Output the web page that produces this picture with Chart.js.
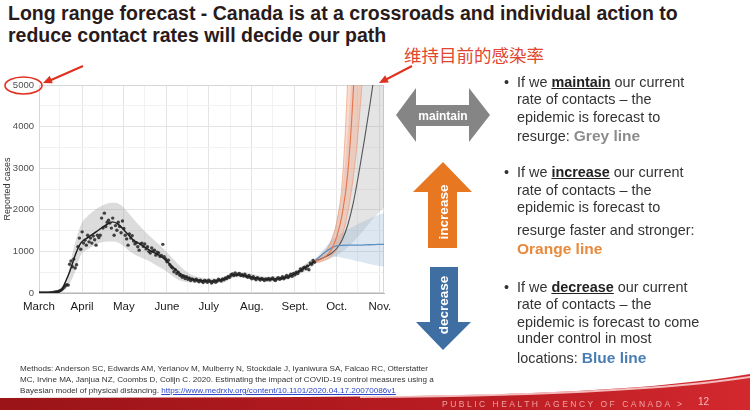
<!DOCTYPE html>
<html><head><meta charset="utf-8">
<script src="https://cdn.jsdelivr.net/npm/chart.js@4.4.0/dist/chart.umd.min.js"></script>
<style>
html,body{margin:0;padding:0;background:#fff;}
body{width:750px;height:410px;position:relative;overflow:hidden;font-family:"Liberation Sans",Arial,sans-serif;}
.abs{position:absolute;}
#title{left:8px;top:2px;font-weight:bold;font-size:19.5px;line-height:22px;color:#2a1a1a;white-space:nowrap;}
#chartWrap{left:0;top:62px;width:392px;height:260px;}
.ln{position:absolute;left:517px;font-size:14.4px;line-height:17px;color:#333;white-space:nowrap;}
.bul{position:absolute;left:504px;font-size:14.4px;line-height:17px;color:#333;}
.ln b{color:#222;}
.grey{color:#8c8c8c;font-weight:bold;font-size:15.5px;}
.orange{color:#e8893b;font-weight:bold;font-size:15.5px;}
.blue{color:#4a7db3;font-weight:bold;font-size:15.5px;}
#cite{left:20px;top:363px;font-size:8.1px;line-height:11px;color:#333;white-space:nowrap;}
#cite a{color:#2a45c8;text-decoration:underline;}
#cn{left:404px;top:45px;font-family:"Noto Sans CJK SC",sans-serif;font-size:17.5px;line-height:20px;color:#e2462e;white-space:nowrap;}
#phac{left:442px;top:399px;font-size:8.5px;letter-spacing:2.5px;color:rgba(255,200,200,0.75);white-space:nowrap;}
#pnum{left:698px;top:396px;font-size:10px;color:rgba(255,210,210,0.85);}
</style>
</head>
<body>
<div id="title" class="abs">Long range forecast - Canada is at a crossroads and individual action to<br>reduce contact rates will decide our path</div>
<div id="cn" class="abs">维持目前的感染率</div>

<div id="chartWrap" class="abs"><canvas id="c"></canvas></div>

<svg class="abs" style="left:0;top:0" width="750" height="410" viewBox="0 0 750 410">
  <defs>
    <linearGradient id="rg" x1="0" y1="0" x2="1" y2="0">
      <stop offset="0" stop-color="#9a1418"/>
      <stop offset="0.6" stop-color="#b81c22"/>
      <stop offset="1" stop-color="#d2282e"/>
    </linearGradient>
  </defs>
  <path d="M0,398 L300,397 C500,396 640,392 750,374 L750,410 L0,410 Z" fill="url(#rg)"/>
  <path d="M360,397 C520,396 660,391 750,377" fill="none" stroke="rgba(255,225,225,0.8)" stroke-width="2"/>
  <polygon points="396,115 416,88 416,105 469,105 469,88 490,115 469,142 469,126 416,126 416,142" fill="#858585"/>
  <text x="443" y="120" fill="#fff" font-family="Liberation Sans" font-weight="bold" font-size="12" text-anchor="middle">maintain</text>
  <polygon points="443,162 472,192 457,192 457,248 428,248 428,192 413,192" fill="#e87722"/>
  <text x="0" y="0" transform="translate(448,212) rotate(-90)" fill="#fff" font-family="Liberation Sans" font-weight="bold" font-size="13.5" text-anchor="middle">increase</text>
  <polygon points="430,267 458,267 458,322 471,322 443,350 416,322 430,322" fill="#3f6ea3"/>
  <text x="0" y="0" transform="translate(448,305) rotate(-90)" fill="#fff" font-family="Liberation Sans" font-weight="bold" font-size="13.5" text-anchor="middle">decrease</text>
  <ellipse cx="23.5" cy="85.5" rx="18.5" ry="8.5" fill="none" stroke="#e0301e" stroke-width="1.6"/>
  <line x1="83" y1="66" x2="50" y2="80.5" stroke="#e0301e" stroke-width="2"/>
  <polygon points="43,83 52.8,83.2 49.7,75.8" fill="#e0301e"/>
  <line x1="412" y1="66" x2="386" y2="79.5" stroke="#e0301e" stroke-width="2"/>
  <polygon points="379,83 388.8,82.4 385.2,75.3" fill="#e0301e"/>
</svg>

<div class="bul" style="top:74px">•</div>
<div class="ln" style="top:74px">If we <b><u>maintain</u></b> our current</div>
<div class="ln" style="top:91px">rate of contacts – the</div>
<div class="ln" style="top:109px">epidemic is forecast to</div>
<div class="ln" style="top:127px">resurge: <span class="grey">Grey line</span></div>

<div class="bul" style="top:164px">•</div>
<div class="ln" style="top:164px">If we <b><u>increase</u></b> our current</div>
<div class="ln" style="top:182px">rate of contacts – the</div>
<div class="ln" style="top:199px">epidemic is forecast to</div>
<div class="ln" style="top:222px">resurge faster and stronger:</div>
<div class="ln" style="top:240px"><span class="orange">Orange line</span></div>

<div class="bul" style="top:279px">•</div>
<div class="ln" style="top:279px">If we <b><u>decrease</u></b> our current</div>
<div class="ln" style="top:296px">rate of contacts – the</div>
<div class="ln" style="top:314px">epidemic is forecast to come</div>
<div class="ln" style="top:330px">under control in most</div>
<div class="ln" style="top:349px">locations: <span class="blue">Blue line</span></div>

<div id="cite" class="abs">Methods: Anderson SC, Edwards AM, Yerlanov M, Mulberry N, Stockdale J, Iyaniwura SA, Falcao RC, Otterstatter<br>MC, Irvine MA, Janjua NZ, Coombs D, Colijn C. 2020. Estimating the impact of COVID-19 control measures using a<br>Bayesian model of physical distancing. <a>https://www.medrxiv.org/content/10.1101/2020.04.17.20070086v1</a></div>
<div id="phac" class="abs">PUBLIC HEALTH AGENCY OF CANADA &gt;</div>
<div id="pnum" class="abs">12</div>

<script>
// ---- axis labels ----
const monthNames = ['March','April','May','June','July','Aug.','Sept.','Oct.','Nov.'];
const monthStartDays = [0,31,61,92,122,153,184,214,245];
const gridDays = [0,15,31,46,61,76,92,107,122,138,153,168,184,199,214,229,245];
const yTickValues = [0,1000,2000,3000,4000,5000];

// ---- observed daily reported cases (day 0 = March 1) ----
const obsCases = [
  0,0,0,0,0,0,0,0,
  5,10,12,20,25,30,40,55,70,
  100,140,180,200,190,
  690,770,630,815,600,680,1110,1320,1050,
  1470,1200,1270,1150,1390,1230,1320,1200,1370,1280,
  1150,1390,1330,1390,1800,1560,1920,1600,1700,1750,
  1680,1560,1800,1390,1620,1510,1700,1600,1450,1730,
  1550,1390,1300,1150,1420,1320,1380,1250,1180,1210,
  1110,1030,1180,1200,1120,1180,1060,1110,1000,960,
  1080,1010,1030,910,980,960,880,900,1170,870,
  820,750,790,680,630,600,510,560,470,500,
  430,420,380,410,350,390,330,360,300,340,
  320,290,330,300,270,310,280,250,300,290,
  260,310,280,240,270,300,260,290,330,310,
  290,340,320,360,350,400,380,440,460,420,
  480,430,450,470,420,440,410,450,400,380,
  420,370,340,390,350,320,370,340,310,350,
  330,300,340,320,350,310,340,360,320,300,
  340,370,330,350,390,340,380,420,370,410,
  450,400,470,440,500,470,520,580,540,600,
  620,580,650,560,720,690,780,740
];

// ---- model fit over observed period ----
const fitDays  = [0,5,10,14,17,19,21,23,26,30,35,41,48,53,57,62,68,74,81,89,96,101,106,110,116,122,128,132,136,140,144,148,152,156,160,164,168,172,176,180,184,188,192,196,198];
const fitCases = [0,0,10,30,120,270,420,600,910,1200,1330,1470,1630,1710,1650,1480,1270,1150,1000,850,630,480,380,330,300,285,290,320,380,430,440,420,390,360,340,330,335,345,360,400,460,540,620,710,760];

const obsBandDays  = [0,10,15,20,25,30,35,40,45,50,55,60,65,70,75,80,85,90,95,100,105,110,116,122,128,134,140,146,152,158,164,170,176,182,188,194,198];
const obsBandUpper = [0,20,100,380,1080,1630,1850,1990,2100,2160,2170,2080,1900,1700,1520,1360,1200,1050,870,690,540,430,370,350,350,400,490,500,460,420,390,400,420,490,620,760,850];
const obsBandLower = [0,0,20,120,430,910,1050,1150,1220,1240,1230,1150,1010,900,830,750,650,560,430,320,270,250,240,230,240,270,370,380,330,300,280,290,310,360,460,580,680];

// ---- forecasts ----
const fcDays      = [198,202,206,210,214,218,222,226,230,234,238,242,246,250];
const greyLine    = [760,810,870,950,1070,1280,1640,2180,2900,3700,4550,5500,6600,7800];
const greyUpper   = [800,900,1050,1300,1750,2500,3900,6000,9000,13000,18000,24000,31000,40000];
const greyLower   = [720,740,780,830,900,1000,1100,1230,1380,1530,1700,1850,2000,2100];
const orangeLine  = [760,800,880,1030,1350,1900,2900,4900,8000,13000,20000,30000,45000,65000];
const orangeUpper = [800,870,1000,1250,1700,2700,5200,9000,15000,24000,36000,52000,75000,100000];
const orangeLower = [720,750,800,880,1050,1380,1950,2800,4100,6000,9000,13000,19000,27000];
const blueLine    = [760,880,990,1080,1130,1145,1150,1150,1150,1155,1160,1165,1170,1170];
const blueUpper   = [800,950,1100,1250,1360,1450,1530,1600,1670,1730,1790,1850,1900,1930];
const blueLower   = [720,800,860,880,870,850,820,790,760,730,700,670,650,640];

const xy = (xs, ys) => xs.map((x, i) => ({x: x, y: ys[i]}));
const lineDs = (data, color, width, order, extra) => Object.assign({
  type: 'line', data: data, borderColor: color, borderWidth: width, pointRadius: 0,
  pointHoverRadius: 0, fill: false, cubicInterpolationMode: 'monotone', order: order
}, extra || {});

const datasets = [
  {type:'scatter', data: obsCases.map((v,i)=>({x:i,y:v})), showLine:false, pointRadius:1.7,
   pointBackgroundColor:'rgba(35,35,35,0.85)', pointBorderWidth:0, order:0},
  lineDs(xy(fitDays, fitCases), '#1a1a1a', 1.4, 1),
  lineDs(xy(fcDays, orangeLine), '#e8744a', 1.1, 2),
  lineDs(xy(fcDays, blueLine), '#5b8fc0', 1.3, 3),
  lineDs(xy(fcDays, greyLine), '#555555', 1.1, 4),
  lineDs(xy(fcDays, orangeLower), 'rgba(236,140,100,0.55)', 1, 7),
  lineDs(xy(fcDays, orangeUpper), 'rgba(236,140,100,0.55)', 1, 7, {fill:'-1', backgroundColor:'rgba(242,160,125,0.38)'}),
  lineDs(xy(fcDays, blueLower), 'rgba(0,0,0,0)', 0, 8),
  lineDs(xy(fcDays, blueUpper), 'rgba(0,0,0,0)', 0, 8, {fill:'-1', backgroundColor:'rgba(130,170,210,0.28)'}),
  lineDs(xy(fcDays, greyLower), 'rgba(0,0,0,0)', 0, 9),
  lineDs(xy(fcDays, greyUpper), 'rgba(0,0,0,0)', 0, 9, {fill:'-1', backgroundColor:'rgba(150,150,150,0.26)'}),
  lineDs(xy(obsBandDays, obsBandLower), 'rgba(0,0,0,0)', 0, 10),
  lineDs(xy(obsBandDays, obsBandUpper), 'rgba(0,0,0,0)', 0, 10, {fill:'-1', backgroundColor:'rgba(150,150,150,0.33)'})
];

const frame = {
  id: 'frame',
  beforeDatasetsDraw(chart) {
    const a = chart.chartArea, c = chart.ctx;
    c.save(); c.strokeStyle = '#d8d8d8'; c.lineWidth = 1;
    c.strokeRect(a.left + 0.5, a.top + 0.5, a.width - 1, a.height - 1);
    c.restore();
  }
};

new Chart(document.getElementById('c'), {
  type: 'line',
  data: { datasets: datasets },
  plugins: [frame],
  options: {
    responsive: true, maintainAspectRatio: false, animation: false, events: [],
    layout: { padding: { left: 0, right: 8, top: 23, bottom: 0 } },
    plugins: { legend: { display: false }, tooltip: { enabled: false } },
    scales: {
      x: {
        type: 'linear', min: 0, max: 248,
        afterBuildTicks: s => { s.ticks = gridDays.map(v => ({ value: v })); },
        afterFit: s => { s.height = 29; s.paddingLeft = 0; s.paddingRight = 0; },
        grid: { drawTicks: false, color: c => monthStartDays.includes(c.tick && c.tick.value) ? '#e4e4e4' : '#f2f2f2' },
        border: { color: '#b8b8b8' },
        ticks: {
          autoSkip: false, maxRotation: 0, minRotation: 0, padding: 7, color: '#1a1a1a',
          font: { family: 'Liberation Sans', size: 11.5 },
          callback: v => { const i = monthStartDays.indexOf(v); return i >= 0 ? monthNames[i] : ''; }
        }
      },
      y: {
        min: 0, max: 5000,
        afterBuildTicks: s => { const t = []; for (let v = 0; v <= 5000; v += 500) t.push({ value: v }); s.ticks = t; },
        afterFit: s => { s.width = 39; },
        grid: { drawTicks: false, color: c => yTickValues.includes(c.tick && c.tick.value) ? '#e4e4e4' : '#f2f2f2' },
        border: { color: '#b8b8b8' },
        title: { display: true, text: 'Reported cases', color: '#333', font: { family: 'Liberation Sans', size: 9 }, padding: { top: 2, bottom: 0 } },
        ticks: {
          padding: 5, color: '#4d4d4d', font: { family: 'Liberation Sans', size: 9.5 },
          callback: v => yTickValues.includes(v) ? String(v) : ''
        }
      }
    }
  }
});
</script>
</body></html>
